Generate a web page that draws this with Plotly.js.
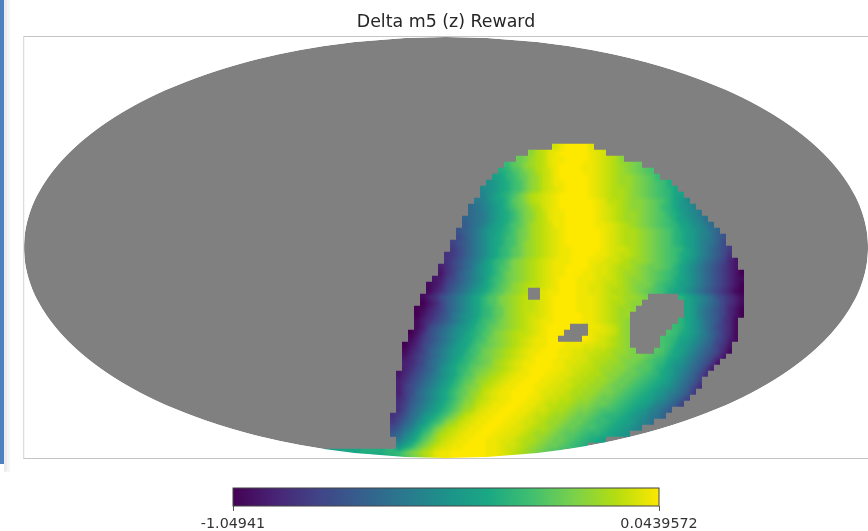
<!DOCTYPE html>
<html>
<head>
<meta charset="utf-8">
<script src="https://cdn.plot.ly/plotly-3.0.1.min.js"></script>
<style>html,body{margin:0;padding:0;background:#fff;overflow:hidden}#chart{width:868px;height:531px;filter:blur(0.35px)}</style>
</head>
<body>
<div id="chart"></div>
<script>
var chartTitle = "Delta m5 (z) Reward";
var valueMin = -1.04941;
var valueMax = 0.0439572;
var tickLabels = ["-1.04941", "0.0439572"];
var viridisStops = [[0,"#440154"],[0.1,"#482475"],[0.2,"#414487"],[0.3,"#355f8d"],[0.4,"#2a788e"],[0.5,"#1d928a"],[0.6,"#1aa884"],[0.7,"#40bf70"],[0.8,"#7ad14a"],[0.9,"#b5dd10"],[1,"#fde800"]];
var levelKey = "0123456789abcdefghijklmnopqrstuvwxyz";
// share of the colour range that each level stands for, as read against the colour bar
var levelShare = [0,0.03,0.06,0.09,0.115,0.145,0.175,0.2,0.23,0.26,0.29,0.32,0.35,0.38,0.41,0.44,0.47,0.5,0.53,0.56,0.59,0.62,0.65,0.68,0.71,0.74,0.77,0.8,0.83,0.86,0.89,0.915,0.94,0.96,0.98,1];

// half width of the sky disc, one value per 4 px row, from the equator outwards
var skyHalfWidth = [422,421.8,421.5,421.1,420.5,419.7,418.8,417.7,416.5,415.1,413.6,411.9,410,408,405.7,403.4,400.8,398.1,395.2,392.1,388.8,385.4,381.7,377.8,373.7,369.4,364.9,360.1,355.1,349.8,344.3,338.5,332.4,326,319.2,312.1,304.7,296.8,288.5,279.7,270.4,260.5,249.9,238.7,226.6,213.5,199.3,183.5,166,145.8,122,91.3,40.9];

// first filled column of each row of the reward map
var fieldStart = [39,35,33,31,30,29,28,27,27,26,25,25,24,24,23,23,22,22,21,21,20,20,19,18,18,17,17,16,16,16,16,15,15,14,14,14,14,14,13,13,13,13,13,13,13,12,12,12,12,13,13,1,9];
// reward level per cell, one string per row ('.' = masked)
var fieldCells = [
"wyzzzzx",
"suvxyzzzzzyxw",
"qrtuvxyyzzzzyxwvus",
"npqstuvxyzzzzyyxwvutsrq",
"lmoprsuvwyzzzzyyxwvutsrqpo",
"jkmnpqstvwyzzzzzyxwvuttsrqpn",
"hiklnoqstvwyyzzzzyxwvuttsrqponl",
"ghiklnoqstvwxyzzzzyxwvuutsrqponmk",
"fhjlmoqsuvwxyzzzzzyxwvuutsrqponmkj",
"efhjkmpqsuvwxyzzzzzzyxvvutssrqpomkig",
"cdfgikmoqrtuwxyzzzzzzyxwvutssrqpnmkihf",
"cdegiklnprsuvxyyzzzzzyxwvuttsrqpomljhge",
"bcdegiklnprsuvxyyzzzzzyxwvuttsrqponljigfd",
"acdfhjkmoprtuvwyyzzzzzyyxwvutsrqponmkjhgec",
"9bcegijlmoqrtuvwxyzzzzzzyxwvuutsrqpomljigfdb",
"8acegiklnoqrtuvwxyzzzzzzyxwvuutsrqpomljigfdb9",
"79acegiklnoqstuvwxyzzzzzzyxwvuutsrqpomljigedb8",
"68acegikmnpqstuvwxyyzzzzzyxwwvutsrqponmkigeca86",
"568acegikmnpqstuvwxyyzzzzyyxwvvutsrqponlkigeca85",
"579bdfhkmnprstuvwxyyyzzzyyxwwvuttsrqponljhfdb9742",
"3579bdgikmoprstuvwxyyzzzzyxxwvuutsrqqpomkigeca8642",
"257acegikmoqrstuvwxyyzzzyyxxwvuttsrqponmkigeca86420",
"2368acegilnoqrstuvwxyzzzyyyxwwvutssrqponlkigeca86421",
"12479bdfhjlnpqstuvvwxyzzzyyxxwvvutsrrqonmljigeca86420",
"1358acegikmoprstu..xyyzzzyyxxwvuutsrqponlkjhfdb975310",
"1358acegikmoprstuv..xyzzzzyyyxwvvuttsr.....mkigec97531",
"0247acegikmoprstuvvwxyzzzzyyyxwvuutss.......kigeca7531",
"01357acegikmnpqstuvvwxyzzzzyyyxwvutts........kifdb97420",
"02468adfhikmnpqstuvwwxyzzzzzyyxwvutt.........kifdb97420",
"13579bdfhjlnoprstuvwxyyzzzzzyyxwvuts........mkigdb9641",
"1379bdfhikmnpqrstuvwxyzzzz...yyxwvts.......nmkigdb8641",
"0258aceghjlmoprstuvvwxyzzz....yxxwvts......onlkigeb9641",
"1368acegiklnoqrstuvwxyyzz....zyxwvuts.....onmkjhfdb8631",
"02479bdfhjkmopqrstuvwxyyzzzyyyxxwwvuts.....onljigeca752",
"1357acegijlnoqrstuvwxyyzzzyyxxwwvvuttsr...pomkjhfdb9741",
"2468acegikmnpqrstuvwxyzzzzyyxxwvvuutssrrqponlkigeca852",
"3468bdfhjlmopqrtuvwxyyzzzyyxxwwvuuttsrrqponmkihfdb962",
"3579bdgikmnpqrstuvwxyzzzzyyxwwvvuttssrqppomljhgeca73",
"2468acegikmoprstuvwxyyzzzyyxxwvvuutssrqqponmkjhfdb85",
"3579bdfhjlnpqstuvwxyyzzzyyxxwvvuuttsrqqponmlkigeca7",
"368acegikmoqrsuvwxyyzzzyyxxwwvuuttsrqqponmlkihfdb85",
"368bdfhjlnpqstvwxyyzzzzyxxwwvuuttsrrqponmlkihfeca6",
"469bdfhjlnprsuvwxyyzzzyyxwwvvuttsrqqponmlkjhgeca7",
"57acegikmoqstvwxyyzzzyyxwvvuutssrqqponmlkjhfeca7",
"58bdfhjlnprtuwxyyzzzyyxwwvuutsrrqpoonmlkihfeca",
"579cehjlnprtvwxyyzzzyyxwvvuttsrqqponmmlkihgedb",
"68bdgilnpstvwxyyzzzyyxwwvuttsrqqponnmlkjigfd",
"8adfilnqsuvwxyyzzzyyxxwvuutsrqqpoonmlkjigf",
"acfhknpsuvwxyyzzzyyxxwvuttsrqpponmmlkjih",
"ehjmprtvwxyyzzzyyxxwvuutsrqqponmlkj",
"hkmprtvwxyyzzzzyyxwwvutsrqqponml",
"jjjkkkllllmmnprsuvxyyzzzzzzyyxwvutsrqpon",
"jklmnpqstvxyyzzzzzzyyxwvu"
];

// sky disc outline through the axes, going down the right side and up the left
var skyPath = "M446,37";
skyHalfWidth.slice().reverse().forEach(function (w, i) { skyPath += " L" + (446 + w) + "," + (248 - (2 + 4 * (skyHalfWidth.length - 1 - i))); });
skyHalfWidth.forEach(function (w, i) { skyPath += " L" + (446 + w) + "," + (248 + (2 + 4 * i)); });
skyPath += " L446,459";
skyHalfWidth.slice().reverse().forEach(function (w, i) { skyPath += " L" + (446 - w) + "," + (248 + (2 + 4 * (skyHalfWidth.length - 1 - i))); });
skyHalfWidth.forEach(function (w, i) { skyPath += " L" + (446 - w) + "," + (248 - (2 + 4 * i)); });
skyPath += " Z";
var outsideSky = "M23,36 L868,36 L868,460 L23,460 Z " + skyPath;

// reward grid
var fieldCols = 72;
var fieldZ = fieldCells.map(function (s, r) {
  var row = new Array(fieldCols).fill(null);
  for (var i = 0; i < s.length; i++) {
    var lvl = levelKey.indexOf(s[i]);
    if (lvl >= 0) row[fieldStart[r] + i] = valueMin + levelShare[lvl] * (valueMax - valueMin);
  }
  return row;
});

var traces = [
  {type:"heatmap", z:fieldZ, x0:321, dx:6, y0:147, dy:6, zsmooth:"best", colorscale:viridisStops, zmin:valueMin, zmax:valueMax, hoverinfo:"skip",
   colorbar:{orientation:"h", lenmode:"pixels", len:426, thicknessmode:"pixels", thickness:18, xref:"paper", x:0.5006, xanchor:"center", yref:"paper", y:-0.0649, yanchor:"top", xpad:0, ypad:0,
     outlinecolor:"#444", outlinewidth:1, tickmode:"array", tickvals:[valueMin, valueMax], ticktext:tickLabels, ticks:"outside", ticklen:5, tickcolor:"#555", tickfont:{family:"DejaVu Sans", size:14.3, color:"#333"}}}
];

var plotW = 845;
var layout = {
  width:868, height:531,
  margin:{l:23, r:0, t:36, b:71, pad:0},
  paper_bgcolor:"#fff", plot_bgcolor:"#fff",
  title:{text:chartTitle, x:446/868, xref:"container", xanchor:"center", y:1-21/531, yref:"container", yanchor:"middle", font:{family:"DejaVu Sans", size:17.4, color:"#262626"}},
  xaxis:{range:[23,868], visible:false, fixedrange:true},
  yaxis:{range:[460,36], visible:false, fixedrange:true},
  shapes:[
    {type:"path", xref:"x", yref:"y", path:skyPath, fillcolor:"#808080", line:{width:0}, layer:"below"},
    {type:"path", xref:"x", yref:"y", path:outsideSky, fillcolor:"#ffffff", line:{width:0}, layer:"above"},
    {type:"line", xref:"x", yref:"y", x0:23.5, x1:23.5, y0:36.5, y1:459.5, line:{color:"#dcdcdc", width:1.5}, layer:"above"},
    {type:"line", xref:"x", yref:"y", x0:23.5, x1:868, y0:36.5, y1:36.5, line:{color:"#c4c4c4", width:1}, layer:"above"},
    {type:"line", xref:"x", yref:"y", x0:23.5, x1:868, y0:459.5, y1:459.5, line:{color:"#c4c4c4", width:1}, layer:"above"},
    {type:"rect", xref:"paper", yref:"paper", x0:(4-23)/plotW, x1:(7-23)/plotW, y0:-0.03, y1:1.09, line:{width:0}, fillcolor:"#ececec"},
    {type:"rect", xref:"paper", yref:"paper", x0:(7-23)/plotW, x1:(10-23)/plotW, y0:-0.03, y1:1.09, line:{width:0}, fillcolor:"#f5f5f5"},
    {type:"rect", xref:"paper", yref:"paper", x0:(0-23)/plotW, x1:(4-23)/plotW, y0:-0.0118, y1:1.09, line:{width:0}, fillcolor:"#4f81c0"}
  ]
};
Plotly.newPlot("chart", traces, layout, {displayModeBar:false, staticPlot:true});
</script>
</body>
</html>
